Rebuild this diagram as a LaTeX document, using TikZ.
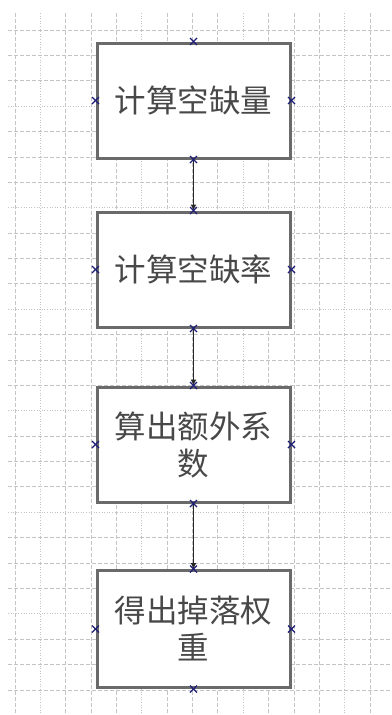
\documentclass[tikz,border=0pt]{standalone}
\usepackage{fontspec}
\newfontfamily\cjk{Noto Sans CJK SC}
\usetikzlibrary{arrows.meta}
\definecolor{gridc}{HTML}{C4C4C4}
\definecolor{boxc}{HTML}{6A6A6A}
\definecolor{txtc}{HTML}{484848}
\definecolor{xc}{HTML}{1E1E78}
\begin{document}
\begin{tikzpicture}[x=1pt,y=-1pt,
  stepbox/.style={draw=boxc, line width=3pt, fill=white, minimum width=193pt, minimum height=115pt, inner sep=0pt, font=\cjk\fontsize{31.5}{37}\selectfont, text=txtc, align=center},
  conn/.style={draw=black!85, line width=1.4pt, -{Latex[length=6pt,width=6pt]}},
  xmk/.style={draw=xc, line width=1.1pt},
  gridA/.style={gridc, line width=0.7pt, dash pattern=on 3.5pt off 2.5pt},
  gridB/.style={gridc, line width=0.7pt, dash pattern=on 1pt off 1.6pt}]
\useasboundingbox (0,0) rectangle (391,715);
\fill[white] (0,0) rectangle (391,715);
% grid
\foreach \i in {0,...,14}{
  \pgfmathsetmacro\xx{15+25.35*\i}
  \pgfmathtruncatemacro\m{mod(\i,4)}
  \ifnum\m=1 \draw[gridB] (\xx,13) -- (\xx,715); \else \draw[gridA] (\xx,13) -- (\xx,715); \fi
}
\foreach \j in {0,...,27}{
  \pgfmathsetmacro\yy{30+25.38*\j}
  \pgfmathtruncatemacro\m{mod(\j,4)}
  \ifnum\m=3 \draw[gridB] (8,\yy) -- (391,\yy); \else \draw[gridA] (8,\yy) -- (391,\yy); \fi
}
% boxes
\node[stepbox] (b1) at (193.5,100.5) {计算空缺量};
\node[stepbox] (b2) at (193.5,269.5) {计算空缺率};
\node[stepbox] (b3) at (193.5,444.5) {算出额外系\\数};
\node[stepbox, minimum height=117pt] (b4) at (193.5,629) {得出掉落权\\重};
% connectors
\draw[conn] (b1.south) -- (b2.north);
\draw[conn] (b2.south) -- (b3.north);
\draw[conn] (b3.south) -- (b4.north);
% connection markers
\foreach \n in {b1,b2,b3,b4}{
  \foreach \a in {north,south,east,west}{
    \draw[xmk] ([shift={(-3.5,-3.5)}]\n.\a) -- ([shift={(3.5,3.5)}]\n.\a);
    \draw[xmk] ([shift={(-3.5,3.5)}]\n.\a) -- ([shift={(3.5,-3.5)}]\n.\a);
  }
}
\end{tikzpicture}
\end{document}
